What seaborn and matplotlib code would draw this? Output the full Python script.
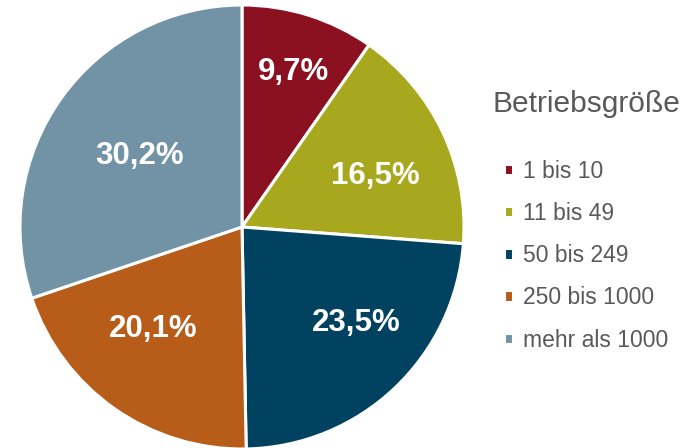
import matplotlib
matplotlib.use("Agg")
import numpy as np
import matplotlib.pyplot as plt
import seaborn as sns

categories = ['1 bis 10', '11 bis 49', '50 bis 249', '250 bis 1000', 'mehr als 1000']
shares = [9.7, 16.5, 23.5, 20.1, 30.2]
colors = ['#8C1120', '#A8A81E', '#00425F', '#B75C19', '#7293A6']

# label placement (fraction of radius, angle in degrees), as in the original
label_r = [0.75, 0.65, 0.66, 0.60, 0.57]
label_ang = [72, 22, -39, -132, 144]

sns.set_theme(style="white")
plt.rcParams['font.family'] = ['Liberation Sans', 'DejaVu Sans']

fig = plt.figure(figsize=(6.93, 4.48), dpi=100)
# pie centre ~(242, 227) px, radius ~222 px
ax = fig.add_axes([20 / 693, -1 / 448, 444 / 693, 444 / 448])

wedges, texts, autotexts = ax.pie(
    shares,
    colors=colors,
    startangle=90,
    counterclock=False,
    autopct=lambda p: f"{p:.1f}%".replace('.', ','),
    pctdistance=0.67,
    wedgeprops=dict(edgecolor='white', linewidth=2.2),
    textprops=dict(color='white', fontsize=22.5, fontweight='bold'),
)
for t, r, a in zip(autotexts, label_r, label_ang):
    t.set_position((r * np.cos(np.radians(a)), r * np.sin(np.radians(a)) - 0.015))
ax.set_xlim(-1, 1)
ax.set_ylim(-1, 1)
ax.set_aspect('equal')

leg = fig.legend(
    wedges, categories,
    loc='upper left',
    bbox_to_anchor=(483 / 693, 1 - 139 / 448),
    frameon=False,
    fontsize=16.5,
    handlelength=0.4,
    handleheight=0.4,
    handletextpad=0.45,
    labelspacing=0.84,
)
for t in leg.get_texts():
    t.set_color('#595959')
fig.text(492 / 693, 1 - 104 / 448, 'Betriebsgröße', fontsize=21.5,
         color='#595959', ha='left', va='center')

fig.savefig('out.png', dpi=100)
